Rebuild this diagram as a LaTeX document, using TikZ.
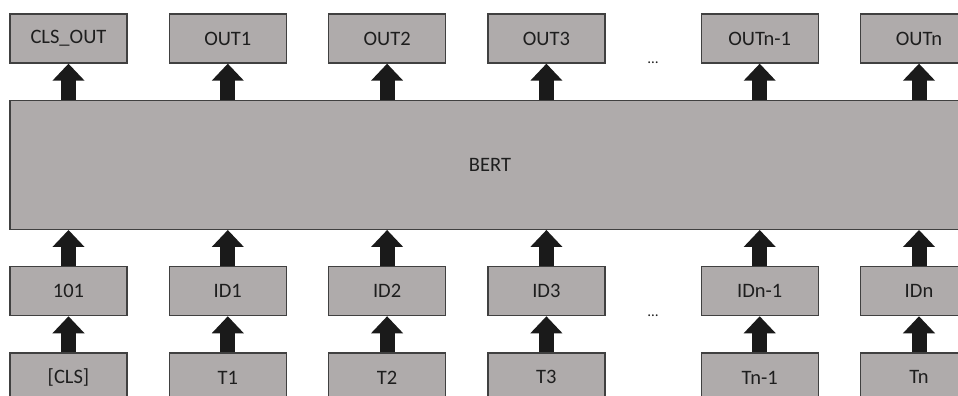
\documentclass[tikz,border=0pt]{standalone}
\usepackage{fontspec}
\setmainfont{Carlito}
\usetikzlibrary{arrows.meta,positioning,calc}

\definecolor{boxgray}{RGB}{175,171,171}
\definecolor{boxline}{RGB}{64,64,64}
\definecolor{arrowblack}{RGB}{26,26,26}
\definecolor{textdark}{RGB}{30,30,30}

\begin{document}
\begin{tikzpicture}[
        node distance=36pt and 41pt,
        box/.style={draw=boxline, fill=boxgray, line width=1.3pt, inner sep=0pt,
            minimum width=117pt, minimum height=49pt, text=textdark,
            font=\fontsize{20.5}{24}\selectfont},
        bert/.style={box, minimum width=960pt, minimum height=129pt},
        dots/.style={anchor=base, text=textdark, font=\fontsize{15}{16}\selectfont},
        up/.style={line width=15pt, arrowblack, -{Triangle[width=31pt,length=17pt]}}
    ]
        \useasboundingbox (0,0) rectangle (958pt,-396pt);
        \clip (0,0) rectangle (958pt,-396pt);

        % outputs
        \node[box] (clsout) at (68.5pt,-38.5pt) {CLS\_OUT};
        \node[box] (out1) [right=of clsout] {OUT1};
        \node[box] (out2) [right=of out1] {OUT2};
        \node[box] (out3) [right=of out2] {OUT3};
        \node[box] (outn1) [right=95pt of out3] {OUTn-1};
        \node[box] (outn) [right=of outn1] {OUTn};

        % the model
        \node[bert] (bert) [below=of clsout.south west, anchor=north west] {BERT};

        % token ids
        \node[box] (id0) [below=of bert.south west, anchor=north west] {101};
        \node[box] (id1) at (id0 -| out1) {ID1};
        \node[box] (id2) at (id0 -| out2) {ID2};
        \node[box] (id3) at (id0 -| out3) {ID3};
        \node[box] (idn1) at (id0 -| outn1) {IDn-1};
        \node[box] (idn) at (id0 -| outn) {IDn};

        % tokens
        \node[box] (tok0) [below=of id0] {[CLS]};
        \node[box] (tok1) [below=of id1] {T1};
        \node[box] (tok2) [below=of id2] {T2};
        \node[box] (tok3) [below=of id3] {T3};
        \node[box] (tokn1) [below=of idn1] {Tn-1};
        \node[box] (tokn) [below=of idn] {Tn};

        \node[dots] (dotsout) at ($(out3.south east)!0.5!(outn1.south west)$) {\dots};
        \node[dots] (dotsid) at ($(id3.south east)!0.5!(idn1.south west)$) {\dots};

        \foreach \t/\i/\o in {tok0/id0/clsout, tok1/id1/out1, tok2/id2/out2,
                tok3/id3/out3, tokn1/idn1/outn1, tokn/idn/outn} {
            \draw[up] (\t.north) -- (\i.south);
            \draw[up] (\i.north) -- (bert.south -| \i);
            \draw[up] (bert.north -| \o) -- (\o.south);
        }
\end{tikzpicture}
\end{document}
